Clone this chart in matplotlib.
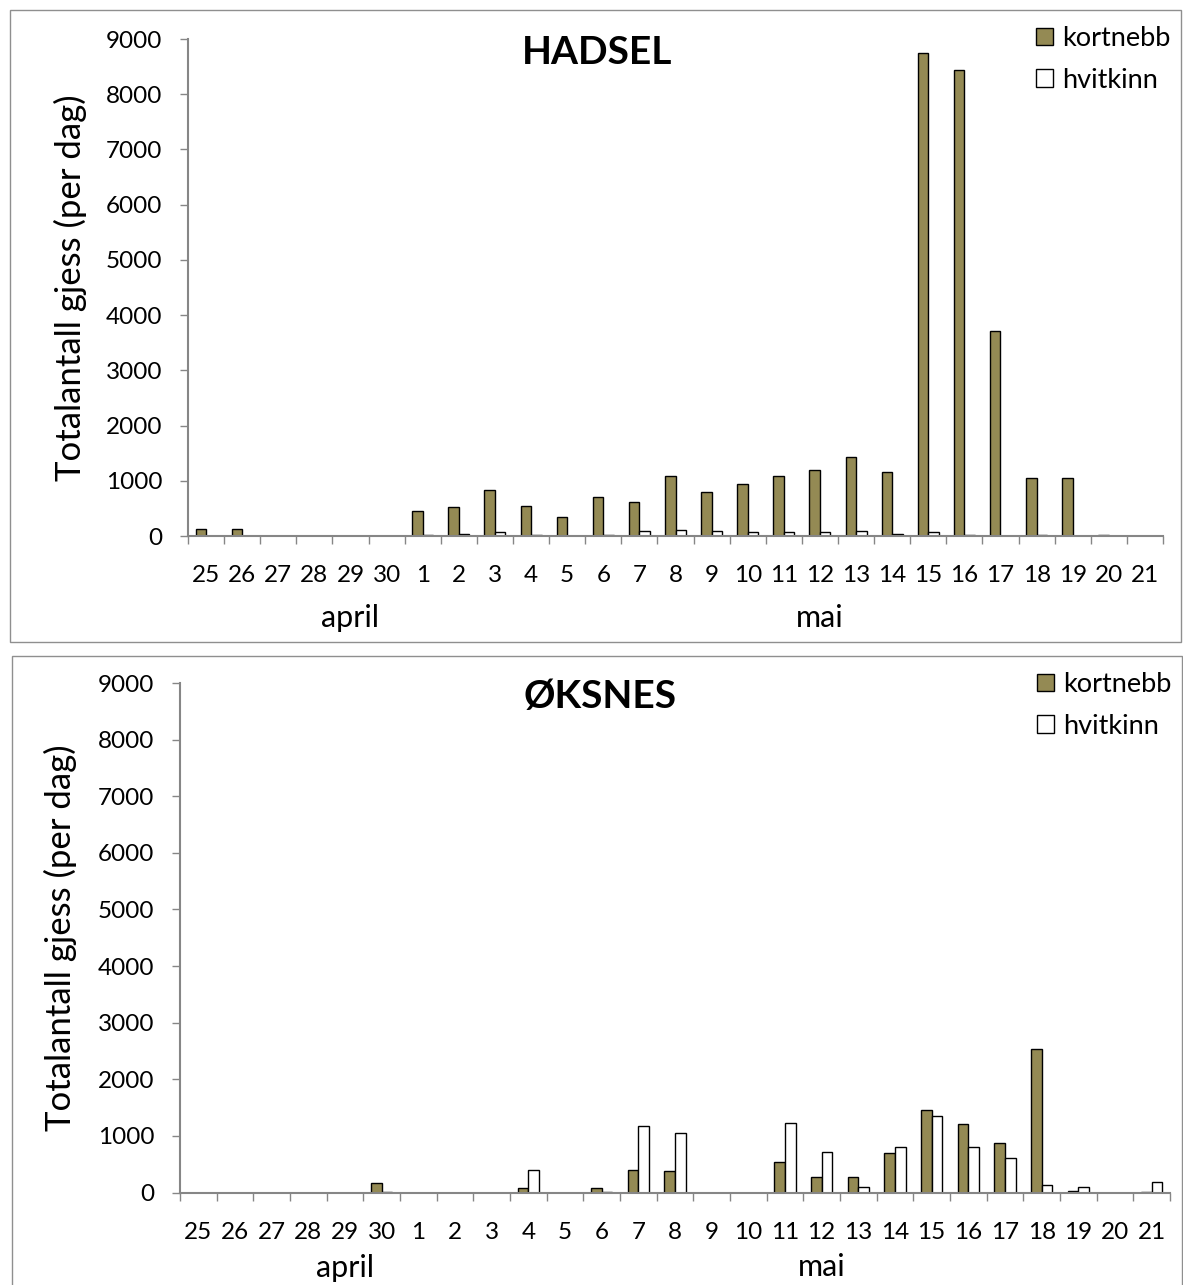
import matplotlib
matplotlib.use('Agg')
import matplotlib.pyplot as plt
import matplotlib.transforms as mtransforms
from matplotlib.patches import Rectangle
import numpy as np

plt.rcParams['font.family'] = ['Lato', 'DejaVu Sans']

# ======================== DATA ========================

dager = ['25', '26', '27', '28', '29', '30',
         '1', '2', '3', '4', '5', '6', '7', '8', '9', '10', '11',
         '12', '13', '14', '15', '16', '17', '18', '19', '20', '21']

hadsel_kortnebb = [130, 130, 0, 0, 0, 0, 460, 530, 840, 550, 340, 700, 620, 1080,
                   790, 950, 1080, 1190, 1430, 1150, 8750, 8440, 3720, 1050, 1050, 20, 0]
hadsel_hvitkinn = [0, 0, 0, 0, 0, 0, 15, 45, 70, 15, 0, 10, 90, 110,
                   85, 65, 65, 65, 85, 45, 70, 15, 0, 15, 0, 0, 0]

oksnes_kortnebb = [0, 0, 0, 0, 0, 160, 0, 0, 0, 75, 0, 75, 400, 380,
                   0, 0, 530, 275, 275, 690, 1450, 1210, 875, 2530, 35, 0, 10]
oksnes_hvitkinn = [0, 0, 0, 0, 0, 10, 0, 0, 0, 400, 0, 15, 1180, 1050,
                   0, 0, 1220, 710, 105, 800, 1355, 800, 605, 140, 105, 0, 190]

maaneder = ['april', 'mai']
maaned_pos = [4.0, 17.0]   # category position of the month labels

# ======================== FIGURE SETUP ========================

W, H = 1183, 1285
fig = plt.figure(figsize=(W / 100, H / 100), dpi=100)

def box(x0, y0, x1, y1):
    # pixel box (top-left origin) -> figure fraction rect
    return [x0 / W, 1 - y1 / H, (x1 - x0) / W, (y1 - y0) / H]

GRAY = '#868686'
OLIVE = '#948A54'

panels = [
    {'title': 'HADSEL', 'k': hadsel_kortnebb, 'h': hadsel_hvitkinn,
     'frame': (10, 10, 1181, 642), 'axes': (188, 39, 1163, 536),
     'title_xy': (597, 52), 'legend_xy': (1036, 26), 'month_off': -91},
    {'title': 'ØKSNES', 'k': oksnes_kortnebb, 'h': oksnes_hvitkinn,
     'frame': (12, 656, 1182, 1300), 'axes': (180, 683, 1170, 1192.5),
     'title_xy': (600, 697), 'legend_xy': (1037, 672), 'month_off': -84},
]

x = np.arange(len(dager))
bw = 0.29

for p in panels:
    # grey frame round each chart
    fx0, fy0, fx1, fy1 = p['frame']
    fig.add_artist(Rectangle((fx0 / W, 1 - fy1 / H), (fx1 - fx0) / W, (fy1 - fy0) / H,
                             transform=fig.transFigure, fill=False, ec='#8f8f8f', lw=1.0))

    ax = fig.add_axes(box(*p['axes']))
    ax.bar(x - bw / 2, p['k'], bw, color=OLIVE, edgecolor='black', linewidth=1.0, label='kortnebb')
    ax.bar(x + bw / 2, p['h'], bw, color='white', edgecolor='black', linewidth=1.0, label='hvitkinn')

    ax.set_xlim(-0.5, len(dager) - 0.5)
    ax.set_ylim(0, 9000)
    ax.set_yticks(np.arange(0, 9001, 1000))
    ax.tick_params(axis='y', direction='out', length=5.5, width=1.0, color=GRAY,
                   labelsize=17.5, pad=13)

    # tick marks between days, labels centred under each day
    ax.set_xticks(np.arange(len(dager) + 1) - 0.5)
    ax.set_xticklabels([])
    ax.set_xticks(x, minor=True)
    ax.set_xticklabels(dager, minor=True)
    ax.tick_params(axis='x', which='major', direction='out', length=5.5, width=1.0, color=GRAY)
    ax.tick_params(axis='x', which='minor', length=0, labelsize=17.5, pad=21)

    for s in ['top', 'right']:
        ax.spines[s].set_visible(False)
    for s in ['left', 'bottom']:
        ax.spines[s].set_color(GRAY)
        ax.spines[s].set_linewidth(1.5)

    ax.text(-0.121, 0.5, 'Totalantall gjess (per dag)', transform=ax.transAxes,
            rotation=90, ha='center', va='center', fontsize=25)

    # month names under the day labels
    trans = mtransforms.offset_copy(ax.get_xaxis_transform(), fig=fig, x=0,
                                    y=p['month_off'], units='dots')
    for m, mp in zip(maaneder, maaned_pos):
        ax.text(mp, 0, m, transform=trans, ha='center', va='baseline', fontsize=22)

    tx, ty = p['title_xy']
    fig.text(tx / W, 1 - ty / H, p['title'], ha='center', va='center',
             fontsize=28, fontweight='bold')

    lx, ly = p['legend_xy']
    ax.legend(loc='upper left', bbox_to_anchor=(lx / W, 1 - ly / H),
              bbox_transform=fig.transFigure, frameon=False, fontsize=19.5,
              borderpad=0, borderaxespad=0, handlelength=0.62, handleheight=0.62,
              handletextpad=0.35, labelspacing=0.62)

fig.savefig('out.png', dpi=100)
